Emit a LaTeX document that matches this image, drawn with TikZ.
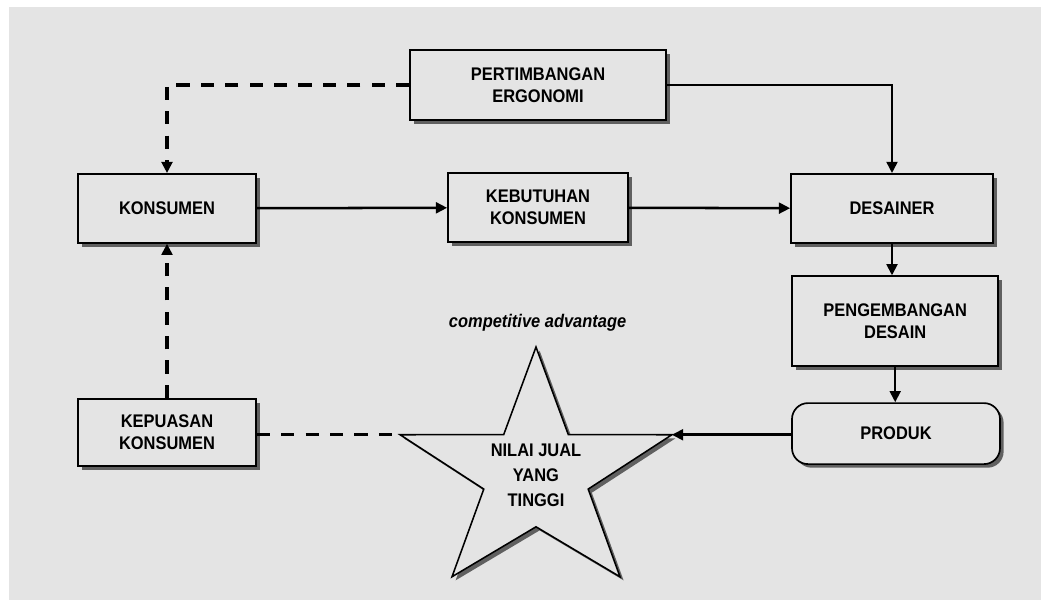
\documentclass[tikz,border=0pt]{standalone}
\usepackage{fontspec}
\usepackage{tikz}
\usetikzlibrary{arrows.meta, positioning, shadows, calc}
\newfontfamily\diagfont[FakeStretch=0.9]{Liberation Sans}
\definecolor{bggray}{HTML}{E4E4E4}
\tikzstyle{box} = [rectangle, draw=black, line width=1.2pt, fill=bggray, align=center, inner sep=1mm, font=\diagfont\bfseries\fontsize{13}{15.5}\selectfont, drop shadow={shadow xshift=0.09cm, shadow yshift=-0.09cm, fill=black!75, opacity=0.8}]
\tikzstyle{arrow} = [line width=1.8pt, -{Triangle[length=2.8mm, width=2.7mm]}]
\tikzstyle{dasharrow} = [arrow, line width=2.3pt, dash pattern=on 3.3mm off 2.8mm]
\tikzstyle{dashline} = [line width=2.3pt, dash pattern=on 3.3mm off 2.8mm]

\begin{document}
\begin{tikzpicture}
  \useasboundingbox (0,0) rectangle (26.025,-15);
  \fill[bggray] (0.225,-0.175) rectangle (26.025,-15);

  % Atas
  \node[box, minimum width=6.4cm, minimum height=1.75cm] (ergo) at (13.45,-2.125) {PERTIMBANGAN\\ERGONOMI};

  % Baris tengah
  \node[box, minimum width=4.45cm, minimum height=1.725cm] (kons) at (4.175,-5.21) {KONSUMEN};
  \node[box, minimum width=4.5cm, minimum height=1.725cm] (butuh) at (13.45,-5.19) {KEBUTUHAN\\KONSUMEN};
  \node[box, minimum width=5.05cm, minimum height=1.725cm] (desainer) at (22.3,-5.21) {DESAINER};

  % Kanan
  \node[box, minimum width=5.15cm, minimum height=2.25cm] (kembang) at (22.38,-8.03) {PENGEMBANGAN\\DESAIN};
  \node[box, rounded corners=0.4cm, minimum width=5.2cm, minimum height=1.525cm] (produk) at (22.4,-10.84) {PRODUK};

  % Kiri bawah
  \node[box, minimum width=4.45cm, minimum height=1.675cm] (puas) at (4.175,-10.81) {KEPUASAN\\KONSUMEN};

  % Bintang
  \begin{scope}[shift={(13.4,-11.85)}, xscale=1.125]
    \draw[line width=1.1pt, fill=bggray, drop shadow={shadow xshift=0.09cm, shadow yshift=-0.09cm, fill=black!75, opacity=0.8}]
      (90:3.175) -- (126:1.22) -- (162:3.175) -- (198:1.22) -- (234:3.175) -- (270:1.32)
      -- (306:3.175) -- (342:1.22) -- (18:3.175) -- (54:1.22) -- cycle;
    \coordinate (tipL) at (162:3.175);
    \coordinate (tipR) at (18:3.175);
  \end{scope}
  \node[align=center, font=\diagfont\bfseries\fontsize{13}{17.5}\selectfont] (nilai) at (13.4,-11.88) {NILAI JUAL\\YANG\\TINGGI};
  \node[font=\diagfont\bfseries\itshape\fontsize{13}{15}\selectfont] (adv) at (13.44,-8.07) {competitive advantage};

  % Panah
  \draw[dasharrow] (ergo.west) -| (kons.north);
  \draw[arrow] (ergo.east) -| (desainer.north);
  \draw[arrow] (kons) -- (butuh);
  \draw[arrow] (butuh) -- (desainer);
  \draw[arrow] (desainer.south) -- (desainer.south |- kembang.north);
  \draw[arrow] (kembang.south) -- (kembang.south |- produk.north);
  \draw[arrow] (produk.west |- tipR) -- (tipR);
  \draw[dashline] (puas.east |- tipL) -- (tipL);
  \draw[dasharrow] (puas.north) -- (kons.south);
\end{tikzpicture}
\end{document}
